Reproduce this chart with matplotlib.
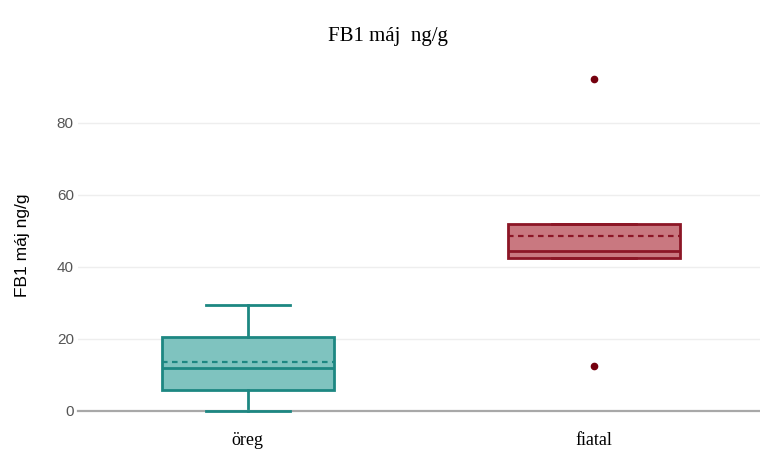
import matplotlib
matplotlib.use("Agg")
import matplotlib.pyplot as plt

categories = ["öreg", "fiatal"]
whislo = [0.0, 42.4]
q1 = [5.8, 42.4]
med = [12.0, 44.4]
mean = [13.7, 48.7]
q3 = [20.6, 51.9]
whishi = [29.4, 51.9]
fliers = [[], [92.2, 12.5]]
yticks = [0, 20, 40, 60, 80]

fills = ["#7fc3bf", "#c97880"]
edges = ["#1d8782", "#8c1626"]
flier_color = "#75000e"

fig = plt.figure(figsize=(7.6, 4.5), dpi=100)
ax = fig.add_axes([78/760, 39/450, 682/760, 342/450])

for i, cat in enumerate(categories):
    st = dict(label=cat, whislo=whislo[i], q1=q1[i], med=med[i], mean=mean[i],
              q3=q3[i], whishi=whishi[i], fliers=fliers[i])
    ax.bxp([st], positions=[i], widths=0.497, capwidths=0.243,
           patch_artist=True, showmeans=True, meanline=True,
           boxprops=dict(facecolor=fills[i], edgecolor=edges[i], linewidth=2),
           medianprops=dict(color=edges[i], linewidth=2),
           meanprops=dict(color=edges[i], linewidth=1.6, linestyle=(0, (2.5, 2))),
           whiskerprops=dict(color=edges[i], linewidth=2, clip_on=False),
           capprops=dict(color=edges[i], linewidth=2, clip_on=False, zorder=5),
           flierprops=dict(marker="o", markerfacecolor=flier_color,
                           markeredgecolor=flier_color, markersize=4.5))

ax.set_xlim(-0.49, 1.48)
ax.set_ylim(0, 95)
ax.set_yticks(yticks)
ax.set_xticks(range(len(categories)))
ax.set_xticklabels(categories, family="Liberation Serif", fontsize=13)
ax.tick_params(axis="x", length=0, pad=15)
ax.tick_params(axis="y", length=0, pad=3, labelsize=11, labelcolor="#555555")
for t in ax.get_yticklabels():
    t.set_family("Liberation Sans")
ax.grid(axis="y", color="#eeeeee", linewidth=1)
ax.set_axisbelow(True)
for s in ["top", "right", "left"]:
    ax.spines[s].set_visible(False)
ax.spines["bottom"].set_color("#a8a8a8")
ax.spines["bottom"].set_linewidth(1.6)

fig.text(23/760, 1 - 245/450, "FB1 máj ng/g", rotation=90, ha="center", va="center",
         family="Liberation Sans", fontsize=12.5)
fig.text(388/760, 1 - 37/450, "FB1 máj  ng/g", ha="center", va="center",
         family="Liberation Serif", fontsize=15)

fig.savefig("out.png", dpi=100)
